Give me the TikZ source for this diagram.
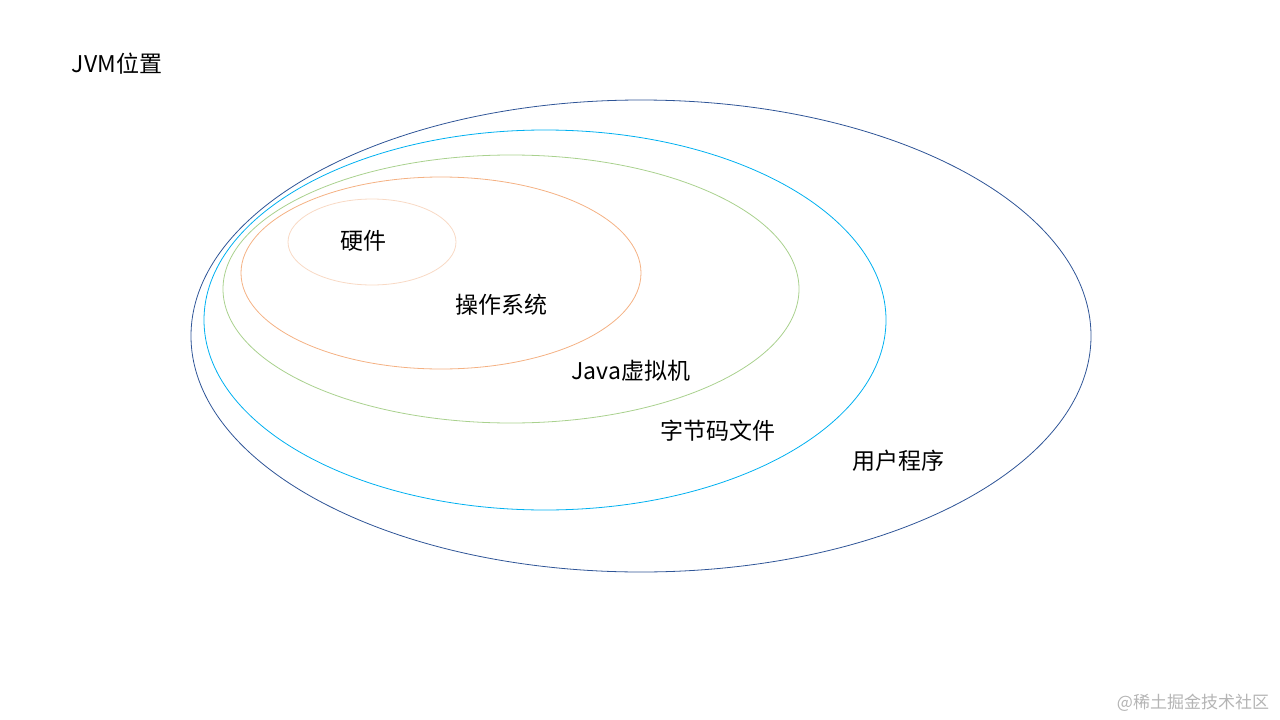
\documentclass[tikz,border=0pt]{standalone}
\usepackage{fontspec}
\setmainfont{Noto Sans CJK SC}
\usepackage{xcolor}
\usepackage{tikz}

\definecolor{userblue}{HTML}{2F5597}
\definecolor{bytecyan}{HTML}{00B0F0}
\definecolor{jvmgreen}{HTML}{A9D18E}
\definecolor{osorange}{HTML}{F4B183}
\definecolor{hwpeach}{HTML}{F8D9C4}
\definecolor{markgray}{HTML}{B4B4B4}

\begin{document}
\begin{tikzpicture}[
    x=1pt, y=-1pt,
    ring/.style={line width=0.8pt},
    label/.style={font=\fontsize{23}{27}\selectfont, inner sep=0pt},
    watermarktext/.style={font=\fontsize{17}{20}\selectfont, text=markgray, inner sep=0pt}
]
    \useasboundingbox (0,0) rectangle (1280,720);

    % Title
    \node[label] (title) at (117,64) {JVM位置};

    % Layers, outermost first
    \draw[ring, userblue] (641,336) ellipse (450 and 236);
    \draw[ring, bytecyan] (545,320) ellipse (341 and 190);
    \draw[ring, jvmgreen] (511,289) ellipse (288 and 134);
    \draw[ring, osorange] (441,273) ellipse (200 and 96);
    \draw[ring, hwpeach] (372,242) ellipse (84 and 43);

    % Layer names
    \node[label] (hardware) at (363,241) {硬件};
    \node[label] (os) at (501,305) {操作系统};
    \node[label] (jvm) at (631,371) {Java虚拟机};
    \node[label] (bytecode) at (718,431) {字节码文件};
    \node[label] (userprog) at (898,461) {用户程序};

    % Watermark
    \node[watermarktext] (watermark) at (1193,703) {@稀土掘金技术社区};
\end{tikzpicture}
\end{document}
